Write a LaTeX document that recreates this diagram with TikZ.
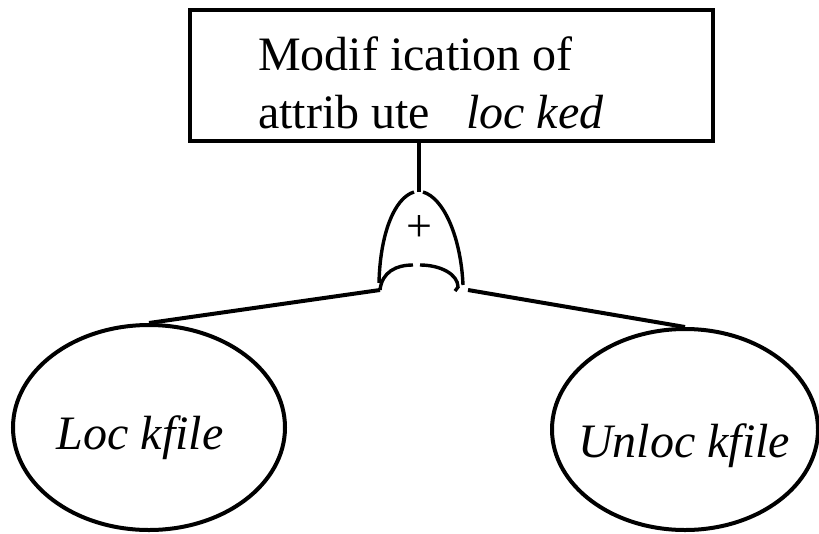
\documentclass[tikz,border=0pt]{standalone}
\usepackage{fontspec}
\setmainfont{Liberation Serif}
\usetikzlibrary{shapes.geometric}
\begin{document}
\begin{tikzpicture}[x=1pt,y=-1pt,
    wire/.style={line width=4pt},
    gateline/.style={line width=3.4pt},
    leaf/.style={draw, ellipse, line width=4pt, inner sep=0pt},
    every node/.style={font=\fontsize{48}{55}\selectfont}]
  \useasboundingbox (0,0) rectangle (819,533);
  %box
  \node[draw, line width=4pt, minimum width=523pt, minimum height=131pt, inner sep=0pt] (mod) at (451.5,75.5) {};
  \node[anchor=base west, inner sep=0pt] (modline1) at (258,70) {Modif ication of};
  \node[anchor=base west, inner sep=0pt] (modline2) at (258,128) {attrib ute\ \ \ \textit{loc ked}};
  %gate
  \coordinate (gatetop) at (419,192);
  \coordinate (gateL) at (380,290);
  \coordinate (gateR) at (468,290);
  \draw[gateline] (mod.south -| gatetop) -- (gatetop);
  \draw[gateline] (414,192) .. controls (394,198) and (380,235) .. (379,283);
  \draw[gateline] (423,192) .. controls (444,198) and (461,238) .. (463,285);
  \draw[gateline] (gateL) .. controls (382,272) and (396,265) .. (413,265);
  \draw[gateline] (420,265) .. controls (440,265) and (458,274) .. (458,287) -- (455,291);
  \node[inner sep=0pt, font=\fontsize{46}{46}\selectfont] (plus) at (419,229) {+};
  %leaves
  \node[leaf, minimum width=272pt, minimum height=205pt] (lock) at (149,427.5) {};
  \node[leaf, minimum width=266pt, minimum height=201pt] (unlock) at (685,429.5) {};
  \node[inner sep=0pt] (locktext) at (140,438) {\textit{Loc kfile}};
  \node[inner sep=0pt] (unlocktext) at (684,446) {\textit{Unloc kfile}};
  \draw[wire] (gateL) -- (lock.north);
  \draw[wire] (gateR) -- (unlock.north);
\end{tikzpicture}
\end{document}
